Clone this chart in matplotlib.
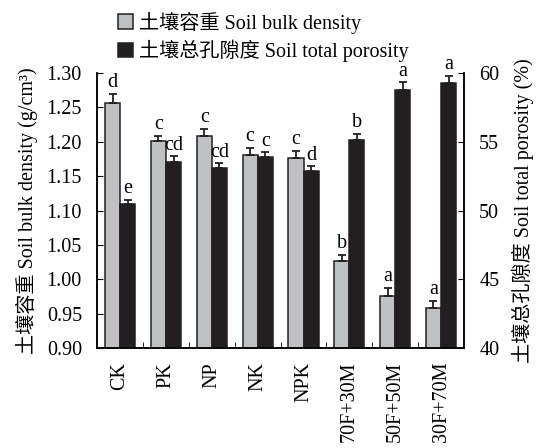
import numpy as np
import matplotlib
matplotlib.use("Agg")
from matplotlib import pyplot as plt
from matplotlib.patches import Patch

plt.rcParams['font.family'] = ['Liberation Serif', 'Noto Sans CJK SC']
plt.rcParams['font.size'] = 14.5

groups = ["CK", "PK", "NP", "NK", "NPK", "70F+30M", "50F+50M", "30F+70M"]
bulk = [1.257, 1.201, 1.208, 1.181, 1.176, 1.026, 0.976, 0.959]
bulk_err = [0.012, 0.008, 0.011, 0.010, 0.010, 0.010, 0.012, 0.010]
bulk_sig = ["d", "c", "c", "c", "c", "b", "a", "a"]
poro = [50.5, 53.5, 53.1, 53.9, 52.9, 55.1, 58.8, 59.25]
poro_err = [0.3, 0.44, 0.34, 0.36, 0.32, 0.48, 0.55, 0.55]
poro_sig = ["e", "cd", "cd", "c", "d", "b", "a", "a"]

gray = "#bfc0c2"
black = "#231f20"

fig = plt.figure(figsize=(5.37, 4.48), dpi=100)
ax = fig.add_axes([0.181, 0.223, 0.683, 0.614])
ax2 = ax.twinx()

x = np.arange(len(groups))
w = 0.33

ax.bar(x - w / 2, bulk, w, bottom=0, color=gray, edgecolor=black, linewidth=1.1,
       yerr=[np.zeros(len(bulk)), bulk_err], capsize=3,
       error_kw=dict(ecolor=black, elinewidth=1.3, capthick=1.3))
ax2.bar(x + w / 2, poro, w, color=black, edgecolor=black, linewidth=1.1,
        yerr=[np.zeros(len(poro)), poro_err], capsize=3,
        error_kw=dict(ecolor=black, elinewidth=1.3, capthick=1.3))

for i in range(len(groups)):
    ax.text(x[i] - w / 2, bulk[i] + bulk_err[i] + 0.003, bulk_sig[i],
            ha="center", va="bottom", fontsize=14.5)
    ax2.text(x[i] + w / 2, poro[i] + poro_err[i] + 0.1, poro_sig[i],
             ha="center", va="bottom", fontsize=14.5)

ax.set_xlim(-0.5, len(groups) - 0.5)
ax.set_ylim(0.90, 1.30)
ax2.set_ylim(40, 60)
ax.set_yticks(np.arange(0.90, 1.301, 0.05))
ax.set_yticklabels(["%.2f" % v for v in np.arange(0.90, 1.301, 0.05)])
ax2.set_yticks([40, 45, 50, 55, 60])

ax.set_xticks(x)
ax.set_xticklabels(groups, rotation=90)
ax.set_xticks(np.arange(0.5, len(groups) - 0.5, 1), minor=True)
ax.tick_params(axis="x", which="major", length=0, pad=10)
ax.tick_params(axis="x", which="minor", direction="in", length=4)
ax.tick_params(axis="y", direction="in", length=4, pad=11)
ax2.tick_params(axis="y", direction="in", length=4, pad=11)

for a in (ax, ax2):
    a.spines["top"].set_visible(False)
    for s in a.spines.values():
        s.set_linewidth(1.1)

ax.set_ylabel("土壤容重 Soil bulk density (g/cm³)", labelpad=6)
ax2.set_ylabel("土壤总孔隙度 Soil total porosity (%)", labelpad=9)

handles = [Patch(facecolor=gray, edgecolor=black, linewidth=1.1),
           Patch(facecolor=black, edgecolor=black, linewidth=1.1)]
fig.legend(handles, ["土壤容重 Soil bulk density", "土壤总孔隙度 Soil total porosity"],
           loc="upper left", bbox_to_anchor=(0.205, 0.992), frameon=False,
           handlelength=0.75, handleheight=0.75, handletextpad=0.3,
           labelspacing=0.3, borderaxespad=0, fontsize=14.5)

fig.savefig("out.png", dpi=100)
